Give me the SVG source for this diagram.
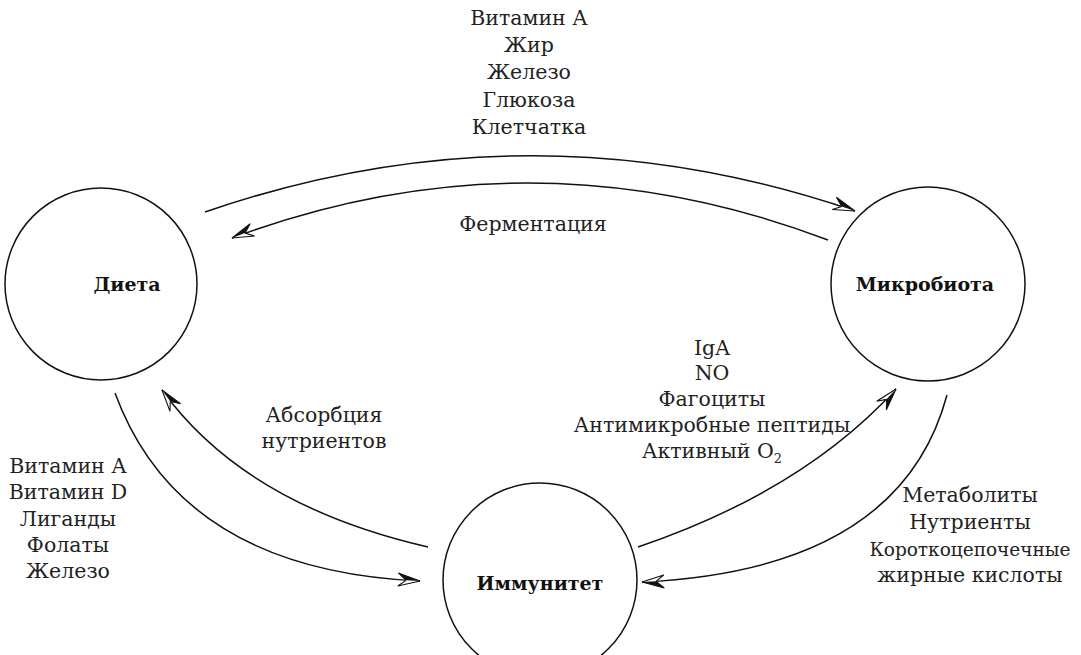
<svg xmlns="http://www.w3.org/2000/svg" width="1081" height="655" viewBox="0 0 1081 655">
<style>
.t{font-family:"DejaVu Serif",serif;font-size:20.5px;fill:#222;text-anchor:middle}
.s{font-size:18.5px}
.b{font-family:"DejaVu Serif",serif;font-size:19px;font-weight:bold;fill:#111;text-anchor:middle}
.n{fill:#fff;stroke:#111;stroke-width:1.5}
.c{fill:none;stroke:#111;stroke-width:1.5}
</style>
<defs>
<marker id="aL" markerUnits="userSpaceOnUse" viewBox="-24 -10 26 20" refX="0" refY="0" markerWidth="26" markerHeight="20" orient="auto" overflow="visible">
<path d="M0,0 L-22,-7 L-14,0 Z" fill="#111" stroke="#111" stroke-width="1"/>
<path d="M0,0 L-22,6 L-14,0" fill="#fff" stroke="#111" stroke-width="1.1"/>
</marker>
<marker id="aR" markerUnits="userSpaceOnUse" viewBox="-24 -10 26 20" refX="0" refY="0" markerWidth="26" markerHeight="20" orient="auto" overflow="visible">
<path d="M0,0 L-22,7 L-14,0 Z" fill="#111" stroke="#111" stroke-width="1"/>
<path d="M0,0 L-22,-6 L-14,0" fill="#fff" stroke="#111" stroke-width="1.1"/>
</marker>
</defs>
<g id="connectors">
<path class="c" d="M205,212 Q530,100 855,211" marker-end="url(#aL)"/>
<path class="c" d="M828,240 Q530,127 232,238" marker-end="url(#aR)"/>
<path class="c" d="M115,393 Q180,570 420,581" marker-end="url(#aL)"/>
<path class="c" d="M428,547 Q245,505 162,390" marker-end="url(#aR)"/>
<path class="c" d="M638,547 Q803,491 896,389" marker-end="url(#aR)"/>
<path class="c" d="M947,395 Q900,570 642,582" marker-end="url(#aL)"/>
</g>
<g id="diet">
<circle class="n" cx="101" cy="284" r="96"/>
<text class="b" x="127" y="291">Диета</text>
</g>
<g id="microbiota">
<circle class="n" cx="928" cy="284" r="97"/>
<text class="b" x="925" y="291">Микробиота</text>
</g>
<g id="immunity">
<circle class="n" cx="540" cy="580" r="97"/>
<text class="b" x="540" y="590">Иммунитет</text>
</g>
<g id="labels">
<text class="t" x="529" y="25">Витамин А</text>
<text class="t" x="529" y="52">Жир</text>
<text class="t" x="529" y="79">Железо</text>
<text class="t" x="529" y="107">Глюкоза</text>
<text class="t" x="529" y="134">Клетчатка</text>
<text class="t" x="533" y="231">Ферментация</text>
<text class="t" x="324" y="422">Абсорбция</text>
<text class="t" x="324" y="448">нутриентов</text>
<text class="t" x="68" y="473">Витамин А</text>
<text class="t" x="68" y="499">Витамин D</text>
<text class="t" x="68" y="526">Лиганды</text>
<text class="t" x="68" y="552">Фолаты</text>
<text class="t" x="68" y="578">Железо</text>
<text class="t" x="712" y="355">IgA</text>
<text class="t" x="712" y="380">NO</text>
<text class="t" x="712" y="406">Фагоциты</text>
<text class="t" x="712" y="432">Антимикробные пептиды</text>
<text class="t" x="712" y="458">Активный O<tspan font-size="13" dy="5">2</tspan></text>
<text class="t" x="970" y="502">Метаболиты</text>
<text class="t" x="970" y="529">Нутриенты</text>
<text class="t s" x="970" y="556">Короткоцепочечные</text>
<text class="t" x="970" y="582">жирные кислоты</text>
</g>
</svg>
